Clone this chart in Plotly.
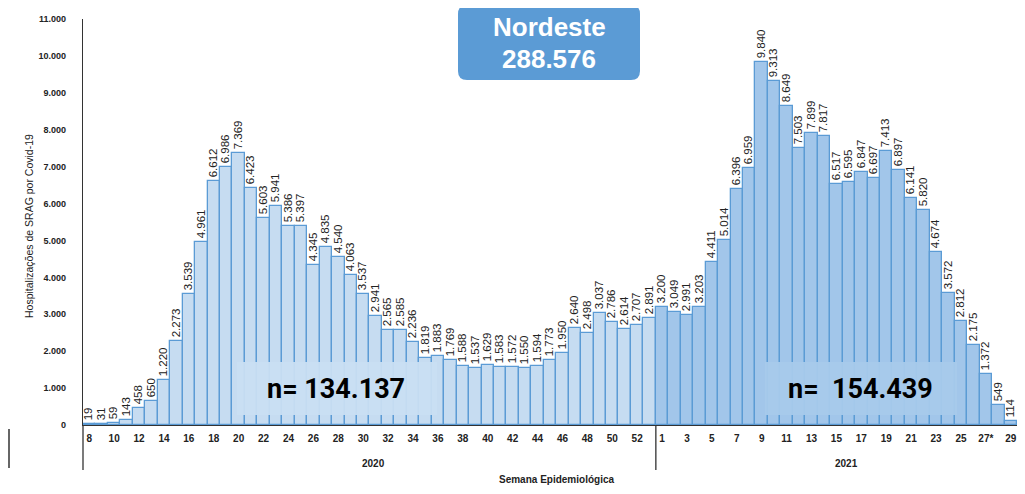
import plotly.graph_objects as go

# ---------------- data ----------------
weeks_2020 = [str(w) for w in range(8, 54)]
cases_2020 = [19, 31, 59, 143, 458, 650, 1220, 2273, 3539, 4961, 6612, 6986, 7369, 6423,
              5603, 5941, 5386, 5397, 4345, 4835, 4540, 4063, 3537, 2941, 2565, 2585, 2236,
              1819, 1883, 1769, 1588, 1537, 1629, 1583, 1572, 1550, 1594, 1773, 1950, 2640,
              2498, 3037, 2786, 2614, 2707, 2891]
weeks_2021 = [str(w) for w in range(1, 30)]
cases_2021 = [3200, 3049, 2991, 3203, 4411, 5014, 6396, 6959, 9840, 9313, 8649, 7503, 7899,
              7817, 6517, 6595, 6847, 6697, 7413, 6897, 6141, 5820, 4674, 3572, 2812, 2175,
              1372, 549, 114]
tick_weeks_2020 = ["8", "10", "12", "14", "16", "18", "20", "22", "24", "26", "28", "30", "32",
                   "34", "36", "38", "40", "42", "44", "46", "48", "50", "52"]
tick_weeks_2021 = ["1", "3", "5", "7", "9", "11", "13", "15", "17", "19", "21", "23", "25",
                   "27", "29"]
tick_text_2021 = ["1", "3", "5", "7", "9", "11", "13", "15", "17", "19", "21", "23", "25",
                  "27*", "29"]
y_ticks = list(range(0, 11001, 1000))
region = "Nordeste"

def fmt(n):
    return f"{n:,}".replace(",", ".")

total_2020 = sum(cases_2020)
total_2021 = sum(cases_2021)
total = total_2020 + total_2021

# category positions
x2020 = list(range(len(cases_2020)))
x2021 = list(range(len(cases_2020), len(cases_2020) + len(cases_2021)))
tickvals = [weeks_2020.index(w) for w in tick_weeks_2020] + \
           [len(weeks_2020) + weeks_2021.index(w) for w in tick_weeks_2021]
ticktext = tick_weeks_2020 + tick_text_2021

# ---------------- layout geometry ----------------
# page body has an 8px default margin: figure origin sits at screen (8, 8)
OFF = 8
W_FIG, H_FIG = 1025 - 2 * OFF, 494 - 2 * OFF
L, T = 83 - OFF, 19 - OFF
PW, PH = W_FIG - L, 406

def px(x):  # screen x -> paper
    return (x - (L + OFF)) / PW

def py(y):  # screen y -> paper
    return (T + OFF + PH - y) / PH

FONT = "Liberation Sans"
EDGE = "#5b9bd5"

fig = go.Figure()
common = dict(textposition="outside", textangle=-90, constraintext="none",
              texttemplate="%{y:,d}", cliponaxis=True,
              textfont=dict(family=FONT, size=11.5, color="#222222"))
fig.add_trace(go.Bar(x=x2020, y=cases_2020, name="2020",
                     marker=dict(color="#c6dcf1", line=dict(color=EDGE, width=1.3)),
                     **common))
fig.add_trace(go.Bar(x=x2021, y=cases_2021, name="2021",
                     marker=dict(color="#a2c6ea", line=dict(color=EDGE, width=1.3)),
                     **common))

shapes = []
# y-axis extension down, separator between years, stray line at far left
shapes.append(dict(type="line", xref="paper", yref="paper", x0=0, x1=0,
                   y0=py(425), y1=py(470), line=dict(color="#333333", width=1.3)))
shapes.append(dict(type="line", xref="x", yref="paper",
                   x0=len(cases_2020) - 0.5, x1=len(cases_2020) - 0.5,
                   y0=py(425), y1=py(470), line=dict(color="#333333", width=1.3)))
shapes.append(dict(type="line", xref="paper", yref="paper", x0=px(9), x1=px(9),
                   y0=py(429), y1=py(468), line=dict(color="#333333", width=1.5)))
# n boxes
shapes.append(dict(type="rect", xref="paper", yref="paper", layer="above",
                   x0=px(237), x1=px(437), y0=py(415), y1=py(362),
                   fillcolor="#c9def2", opacity=0.95, line=dict(width=0)))
shapes.append(dict(type="rect", xref="paper", yref="paper", layer="above",
                   x0=px(765), x1=px(957), y0=py(415), y1=py(362),
                   fillcolor="#a8caeb", opacity=0.95, line=dict(width=0)))

# rounded title box
bx0, bx1, by0, by1, r = 458, 640, 5, 80, 9
pts = [
    ("M", px(bx0 + r), py(by0)),
    ("L", px(bx1 - r), py(by0)),
    ("Q", px(bx1), py(by0), px(bx1), py(by0 + r)),
    ("L", px(bx1), py(by1 - r)),
    ("Q", px(bx1), py(by1), px(bx1 - r), py(by1)),
    ("L", px(bx0 + r), py(by1)),
    ("Q", px(bx0), py(by1), px(bx0), py(by1 - r)),
    ("L", px(bx0), py(by0 + r)),
    ("Q", px(bx0), py(by0), px(bx0 + r), py(by0)),
]
path = ""
for p in pts:
    cmd = p[0]
    coords = p[1:]
    path += cmd + " " + " ".join(
        f"{coords[i]:.5f},{coords[i+1]:.5f}" for i in range(0, len(coords), 2)) + " "
path += "Z"
shapes.append(dict(type="path", xref="paper", yref="paper", path=path,
                   fillcolor="#5b9bd5", line=dict(width=0), layer="above"))

def ann(x, y, text, **kw):
    d = dict(xref="paper", yref="paper", x=px(x), y=py(y), showarrow=False, text=text,
             xanchor="center", yanchor="middle")
    d.update(kw)
    return d

annotations = [
    ann(549, 27, f"<b>{region}</b>", font=dict(family=FONT, size=26, color="white")),
    ann(549, 59, f"<b>{fmt(total)}</b>", font=dict(family=FONT, size=26, color="white")),
    ann(336, 389, f"<b>n= {fmt(total_2020)}</b>",
        font=dict(family="Roboto", size=27, color="black")),
    ann(860, 389, f"<b>n=  {fmt(total_2021)}</b>",
        font=dict(family="Roboto", size=27, color="black")),
    ann(373, 463, "<b>2020</b>", font=dict(family=FONT, size=10, color="#222222")),
    ann(846, 463, "<b>2021</b>", font=dict(family=FONT, size=10, color="#222222")),
    ann(556, 479.5, "<b>Semana Epidemiológica</b>",
        font=dict(family=FONT, size=10, color="#222222")),
    ann(29, 226, "Hospitalizações de SRAG por Covid-19", textangle=-90,
        font=dict(family=FONT, size=10.5, color="#222222")),
]

fig.update_layout(
    width=W_FIG, height=H_FIG,
    margin=dict(l=L, r=W_FIG - L - PW, t=T, b=H_FIG - T - PH, pad=0, autoexpand=False),
    paper_bgcolor="white", plot_bgcolor="white",
    barmode="overlay", bargap=0,
    showlegend=False,
    separators=",.",
    shapes=shapes, annotations=annotations,
    xaxis=dict(range=[-0.5, 74.5], tickmode="array", tickvals=tickvals, ticktext=ticktext,
               showline=True, linecolor="#333333", linewidth=1.3, showgrid=False,
               zeroline=False, ticks="", automargin=False, ticklabelstandoff=4,
               ticklabeloverflow="allow",
               tickfont=dict(family=FONT, size=10, color="#222222", weight="bold")),
    yaxis=dict(range=[0, 11000], tickmode="array", tickvals=y_ticks, tickformat=",d",
               showline=True, linecolor="#333333", linewidth=1.3, showgrid=False,
               zeroline=False, ticks="", ticklabelstandoff=14, automargin=False,
               tickfont=dict(family=FONT, size=9, color="#222222", weight="bold")),
)

fig.write_html("out.html")
